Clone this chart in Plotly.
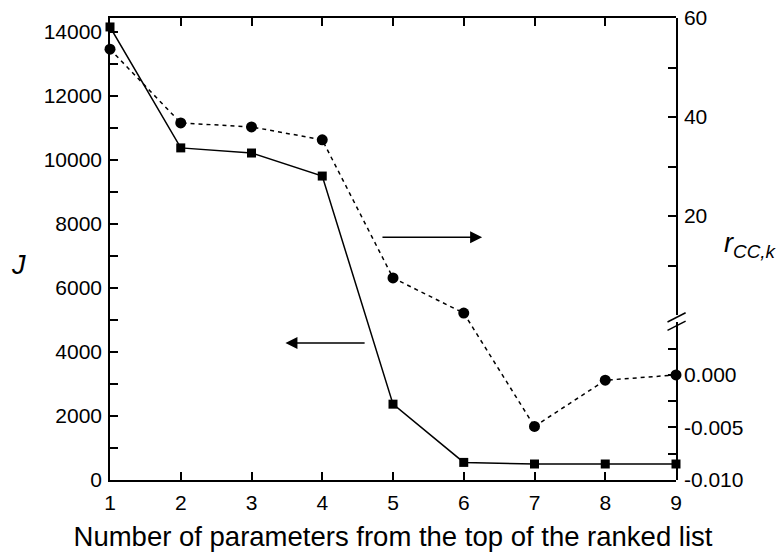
import plotly.graph_objects as go

# Number of parameters taken from the top of the ranked list
n_params = [1, 2, 3, 4, 5, 6, 7, 8, 9]

# Objective J (left axis)
J_values = [14160, 10380, 10220, 9500, 2370, 550, 500, 500, 500]

# Correlation r_CC,k (right axis, broken): large values on the upper scale,
# small values on the lower scale
r_upper_x = [1, 2, 3, 4, 5, 6]
r_upper = [53.7, 38.8, 38.0, 35.4, 7.5, 0.4]
r_lower_x = [7, 8, 9]
r_lower = [-0.0049, -0.0005, 0.0]

x_ticks = [1, 2, 3, 4, 5, 6, 7, 8, 9]
J_ticks = [0, 2000, 4000, 6000, 8000, 10000, 12000, 14000]
J_tick_text = [str(v) for v in J_ticks]
upper_ticks = [20, 40, 60]
lower_ticks = [-0.010, -0.005, 0.000]
lower_tick_text = ["-0.010", "-0.005", "0.000"]

FONT = "Liberation Sans, Arial, sans-serif"
DASH = "4px,4px"
CLEAR = "rgba(0,0,0,0)"

# Axis geometry
J_RANGE = [0, 14440]
UPPER_RANGE = [0, 60]
UPPER_DOMAIN = [0.357, 1.0]
LOWER_RANGE = [-0.010, 0.005]
LOWER_DOMAIN = [0.0, 0.341]


def to_paper(v, rng, dom):
    """Map a data value on a linear axis to paper coordinates."""
    frac = (v - rng[0]) / (rng[1] - rng[0])
    return dom[0] + frac * (dom[1] - dom[0])


fig = go.Figure()

fig.add_trace(go.Scatter(
    x=r_upper_x, y=r_upper, mode="lines+markers",
    line=dict(color="black", width=1.5, dash=DASH),
    marker=dict(symbol="circle", size=11, color="black"),
    xaxis="x", yaxis="y3", showlegend=False, cliponaxis=False,
))

fig.add_trace(go.Scatter(
    x=r_lower_x, y=r_lower, mode="lines+markers",
    line=dict(color="black", width=1.5, dash=DASH),
    marker=dict(symbol="circle", size=11, color="black"),
    xaxis="x", yaxis="y2", showlegend=False, cliponaxis=False,
))

fig.add_trace(go.Scatter(
    x=n_params, y=J_values, mode="lines+markers",
    line=dict(color="black", width=1.5),
    marker=dict(symbol="square", size=9, color="black"),
    xaxis="x", yaxis="y", showlegend=False, cliponaxis=False,
))

# Dashed segment crossing the axis break (last upper point to first lower point)
fig.add_shape(
    type="line", xref="x", yref="paper",
    x0=r_upper_x[-1], y0=to_paper(r_upper[-1], UPPER_RANGE, UPPER_DOMAIN),
    x1=r_lower_x[0], y1=to_paper(r_lower[0], LOWER_RANGE, LOWER_DOMAIN),
    line=dict(color="black", width=1.5, dash=DASH),
)

# Break marks on the right axis
for yb in (0.334, 0.352):
    fig.add_shape(
        type="line", xref="paper", yref="paper",
        x0=0.985, y0=yb - 0.01, x1=1.017, y1=yb + 0.01,
        line=dict(color="black", width=1.5),
    )

axis_common = dict(
    showline=True, linecolor="black", linewidth=1.5,
    ticks="inside", ticklen=8, tickwidth=1.5, tickcolor="black",
    showgrid=False, zeroline=False, automargin=False,
    tickfont=dict(family=FONT, size=21, color="black"),
)

fig.update_layout(
    width=776, height=556,
    margin=dict(l=110, r=100, t=18, b=76),
    paper_bgcolor="white", plot_bgcolor=CLEAR,
    xaxis=dict(
        range=[1, 9], tickvals=x_ticks, mirror="ticks",
        title=dict(text="Number of parameters from the top of the ranked list",
                   font=dict(family=FONT, size=27.5, color="black"), standoff=14),
        ticklabelstandoff=3,
        **axis_common,
    ),
    yaxis=dict(
        range=J_RANGE, tickvals=J_ticks, ticktext=J_tick_text,
        minor=dict(dtick=1000, ticks="inside", ticklen=8, tickwidth=1.5, tickcolor="black"),
        ticklabelstandoff=2,
        **axis_common,
    ),
    yaxis2=dict(
        range=LOWER_RANGE, domain=LOWER_DOMAIN, anchor="x", side="right",
        tickvals=lower_ticks, ticktext=lower_tick_text,
        minor=dict(tickvals=[-0.0075, -0.0025, 0.0025], ticks="inside",
                   ticklen=8, tickwidth=1.5, tickcolor="black"),
        ticklabelstandoff=2,
        **axis_common,
    ),
    yaxis3=dict(
        range=UPPER_RANGE, domain=UPPER_DOMAIN, anchor="x", side="right",
        tickvals=upper_ticks,
        minor=dict(tickvals=[10, 30, 50], ticks="inside",
                   ticklen=8, tickwidth=1.5, tickcolor="black"),
        ticklabelstandoff=2,
        **axis_common,
    ),
    annotations=[
        dict(text="<i>J</i>", xref="paper", yref="paper", x=-0.161, y=0.466,
             xanchor="center", yanchor="middle",
             showarrow=False, font=dict(family=FONT, size=27, color="black")),
        dict(text="<i>r</i><sub><i>CC,k</i></sub>", xref="paper", yref="paper",
             x=1.131, y=0.508, xanchor="center", yanchor="middle", showarrow=False,
             font=dict(family=FONT, size=27, color="black")),
        # Arrows pointing to the axis each curve belongs to
        dict(x=3.48, y=4280, ax=4.62, ay=4280, xref="x", yref="y",
             axref="x", ayref="y", showarrow=True, text="",
             arrowhead=2, arrowsize=1.6, arrowwidth=1.5, arrowcolor="black"),
        dict(x=6.26, y=7590, ax=4.83, ay=7590, xref="x", yref="y",
             axref="x", ayref="y", showarrow=True, text="",
             arrowhead=2, arrowsize=1.6, arrowwidth=1.5, arrowcolor="black"),
    ],
)

fig.write_html("out.html")
